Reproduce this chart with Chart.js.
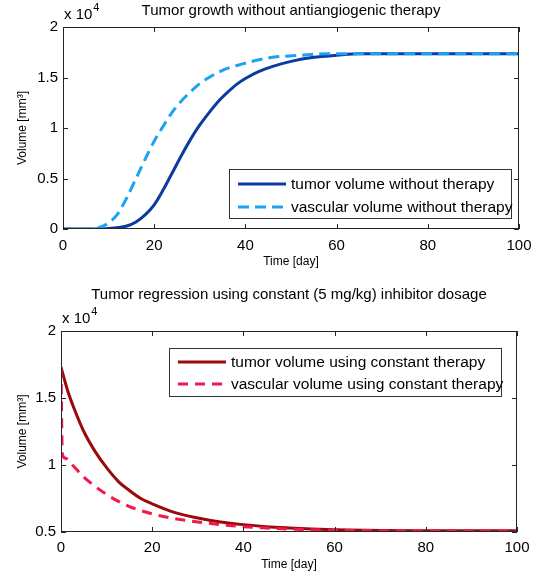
<!DOCTYPE html>
<html>
<head>
<meta charset="utf-8">
<script src="https://cdn.jsdelivr.net/npm/chart.js@4/dist/chart.umd.min.js"></script>
<style>
    html, body { margin: 0; padding: 0; background: #fff; }
    #wrap { position: relative; width: 542px; height: 576px; }
    .panel { position: absolute; left: 0; width: 542px; }
</style>
</head>
<body>
<div id="wrap">
    <div class="panel" style="top:0;height:280px"><canvas id="growth"></canvas></div>
    <div class="panel" style="top:280px;height:296px"><canvas id="regression"></canvas></div>
</div>
<script>
// ---------- DATA ----------
const dayTicks = [0, 20, 40, 60, 80, 100];
const growthVolumeTicks = [0, 5000, 10000, 15000, 20000];
const regressionVolumeTicks = [5000, 10000, 15000, 20000];

// top panel: no therapy
const growthTumorDays = [0, 6, 10, 14, 16, 18, 20, 22, 24, 26, 28, 30, 32, 34, 36, 38, 40, 43, 46, 50, 55, 60, 65, 80, 100];
const growthTumorVolume = [0, 0, 40, 300, 700, 1400, 2400, 3900, 5600, 7300, 8900, 10300, 11500, 12600, 13500, 14300, 14900, 15600, 16100, 16600, 17000, 17200, 17350, 17350, 17350];
const growthVascularDays = [0, 6, 8, 10, 12, 14, 16, 18, 20, 22, 24, 26, 28, 30, 32, 34, 36, 39, 42, 46, 52, 58, 65, 100];
const growthVascularVolume = [0, 0, 150, 600, 1500, 3100, 5000, 6900, 8700, 10200, 11600, 12700, 13600, 14400, 15000, 15500, 15900, 16300, 16650, 17000, 17200, 17350, 17350, 17350];

// bottom panel: constant 5 mg/kg
const regressionTumorDays = [0, 1.5, 3, 5, 7.5, 10, 12.5, 15, 17.5, 20, 25, 30, 35, 40, 45, 50, 55, 60, 70, 80, 100];
const regressionTumorVolume = [17300, 15500, 14100, 12500, 11000, 9800, 8800, 8100, 7500, 7100, 6450, 6050, 5750, 5550, 5400, 5300, 5220, 5170, 5120, 5100, 5100];
const regressionVascularDays = [0, 0.3, 1, 2.5, 5, 7.5, 10, 12.5, 15, 17.5, 20, 25, 30, 35, 40, 45, 50, 55, 60, 70, 100];
const regressionVascularVolume = [17300, 10800, 10500, 10000, 9100, 8400, 7800, 7300, 6900, 6600, 6350, 6000, 5750, 5550, 5400, 5300, 5220, 5170, 5130, 5100, 5100];

const FONT = "'Liberation Sans', Arial, sans-serif";

// ---------- HELPERS ----------
const toPoints = (days, vals) => days.map((d, i) => ({ x: d, y: vals[i] }));

// matlab-like frame: box, inward ticks, titles, legend
const matlabFrame = {
    id: "matlabFrame",
    afterDatasetsDraw(chart, args, o) {
        const { ctx, chartArea: a, scales } = chart;
        ctx.save();

        // box + inward ticks on all four sides
        ctx.strokeStyle = "#262626";
        ctx.lineWidth = 1;
        ctx.strokeRect(a.left + 0.5, a.top + 0.5, a.right - a.left - 1, a.bottom - a.top - 1);
        ctx.beginPath();
        scales.x.ticks.forEach(t => {
            const px = Math.round(scales.x.getPixelForValue(t.value)) + 0.5;
            ctx.moveTo(px, a.bottom); ctx.lineTo(px, a.bottom - 5);
            ctx.moveTo(px, a.top); ctx.lineTo(px, a.top + 5);
        });
        scales.y.ticks.forEach(t => {
            const py = Math.round(scales.y.getPixelForValue(t.value)) + 0.5;
            ctx.moveTo(a.left, py); ctx.lineTo(a.left + 5, py);
            ctx.moveTo(a.right, py); ctx.lineTo(a.right - 5, py);
        });
        ctx.stroke();

        ctx.fillStyle = "#000";
        ctx.textBaseline = "middle";

        // title
        ctx.font = "15px " + FONT;
        ctx.textAlign = "center";
        ctx.fillText(o.title, (a.left + a.right) / 2, o.titleY);

        // exponent
        ctx.textAlign = "left";
        ctx.fillText("x 10", a.left + 1, o.expY);
        const w = ctx.measureText("x 10").width;
        ctx.font = "11px " + FONT;
        ctx.fillText("4", a.left + 1 + w + 1, o.expY - 7);

        // axis titles
        ctx.font = "12px " + FONT;
        ctx.textAlign = "center";
        ctx.fillText("Time [day]", (a.left + a.right) / 2, o.xTitleY);
        ctx.save();
        ctx.translate(23, (a.top + a.bottom) / 2);
        ctx.rotate(-Math.PI / 2);
        ctx.fillText("Volume [mm\u00B3]", 0, 0);
        ctx.restore();

        // legend
        const L = o.legend;
        ctx.fillStyle = "#fff";
        ctx.fillRect(L.x, L.y, L.w, L.h);
        ctx.strokeStyle = "#333";
        ctx.strokeRect(L.x + 0.5, L.y + 0.5, L.w, L.h);
        ctx.font = "15.5px " + FONT;
        ctx.textAlign = "left";
        chart.data.datasets.forEach((ds, i) => {
            const cy = L.y + L.rowY[i];
            ctx.strokeStyle = ds.borderColor;
            ctx.lineWidth = ds.borderWidth;
            ctx.setLineDash(ds.borderDash || []);
            ctx.beginPath();
            ctx.moveTo(L.x + 9, cy);
            ctx.lineTo(L.x + 57, cy);
            ctx.stroke();
            ctx.setLineDash([]);
            ctx.fillStyle = "#000";
            ctx.fillText(ds.label, L.x + 62, cy + 1);
        });
        ctx.restore();
    }
};

function makeChart(id, cfg) {
    return new Chart(document.getElementById(id), {
        type: "line",
        data: {
            datasets: cfg.series.map(s => ({
                label: s.label,
                data: s.data,
                borderColor: s.color,
                borderWidth: 3,
                borderDash: s.dash,
                pointRadius: 0,
                fill: false,
                cubicInterpolationMode: "monotone",
                order: s.order
            }))
        },
        options: {
            responsive: true,
            maintainAspectRatio: false,
            animation: false,
            layout: { padding: cfg.padding },
            plugins: { legend: { display: false }, tooltip: { enabled: false }, matlabFrame: cfg.frame },
            scales: {
                x: {
                    type: "linear", min: 0, max: 100,
                    afterBuildTicks: s => { s.ticks = dayTicks.map(v => ({ value: v })); },
                    afterFit: s => { s.height = cfg.xHeight; },
                    grid: { display: false, drawTicks: false }, border: { display: false },
                    ticks: { padding: cfg.xPad, color: "#000", font: { family: FONT, size: 15 } }
                },
                y: {
                    min: cfg.yTicks[0], max: cfg.yTicks[cfg.yTicks.length - 1],
                    afterBuildTicks: s => { s.ticks = cfg.yTicks.map(v => ({ value: v })); },
                    afterFit: s => { s.width = cfg.yWidth; },
                    grid: { display: false, drawTicks: false }, border: { display: false },
                    ticks: { padding: 5, color: "#000", font: { family: FONT, size: 15 }, callback: v => v / 1e4 }
                }
            }
        },
        plugins: [matlabFrame]
    });
}

// ---------- RENDER ----------
makeChart("growth", {
    padding: { top: 27, right: 23, left: 0, bottom: 0 },
    xHeight: 51, yWidth: 63, xPad: 8,
    yTicks: growthVolumeTicks,
    series: [
        { label: "tumor volume without therapy", data: toPoints(growthTumorDays, growthTumorVolume), color: "#0b3b9f", order: 1 },
        { label: "vascular volume without therapy", data: toPoints(growthVascularDays, growthVascularVolume), color: "#1ca2f4", dash: [11, 6], order: 0 }
    ],
    frame: {
        title: "Tumor growth without antiangiogenic therapy",
        titleY: 11, expY: 15, xTitleY: 262,
        legend: { x: 229, y: 169, w: 282, h: 49, rowY: [15, 38] }
    }
});

makeChart("regression", {
    padding: { top: 51, right: 25, left: 0, bottom: 0 },
    xHeight: 44, yWidth: 61, xPad: 7,
    yTicks: regressionVolumeTicks,
    series: [
        { label: "tumor volume using constant therapy", data: toPoints(regressionTumorDays, regressionTumorVolume), color: "#9b0a0a", order: 1 },
        { label: "vascular volume using constant therapy", data: toPoints(regressionVascularDays, regressionVascularVolume), color: "#f5164a", dash: [10, 7], order: 0 }
    ],
    frame: {
        title: "Tumor regression using constant (5 mg/kg) inhibitor dosage",
        titleY: 15, expY: 39, xTitleY: 285,
        legend: { x: 169, y: 68, w: 332, h: 48, rowY: [14, 36] }
    }
});
</script>
</body>
</html>
